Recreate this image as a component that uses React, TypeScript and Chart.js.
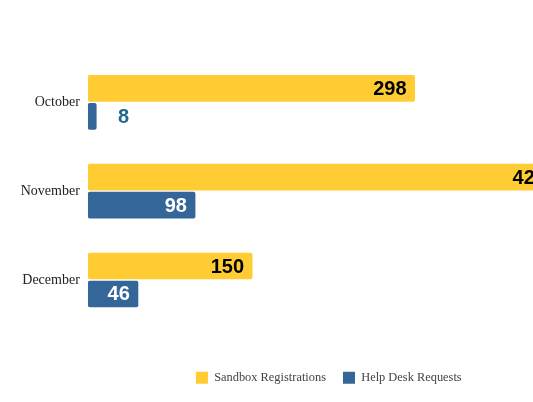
import React, { useEffect, useRef } from "react";
import { Chart, registerables } from "chart.js";

Chart.register(...registerables);

const categories = ["October", "November", "December"];
const sandboxRegistrations = [298, 425, 150];
const helpDeskRequests = [8, 98, 46];
const seriesNames = ["Sandbox Registrations", "Help Desk Requests"];
const seriesColors = ["#FFCD33", "#346699"];
const labelColors = ["#000000", "#FFFFFF"];
const outsideLabelColor = "#1F6B8F";

const valueLabelPlugin = {
  id: "valueLabels",
  afterDatasetsDraw(chart: any) {
    const ctx = chart.ctx;
    ctx.save();
    ctx.font = "bold 20px 'Liberation Sans', Arial, sans-serif";
    ctx.textBaseline = "middle";
    chart.data.datasets.forEach((ds: any, di: number) => {
      const meta = chart.getDatasetMeta(di);
      meta.data.forEach((bar: any, i: number) => {
        const text = String(ds.data[i]);
        const w = ctx.measureText(text).width;
        const len = bar.x - bar.base;
        if (len > w + 18) {
          ctx.fillStyle = labelColors[di];
          ctx.textAlign = "right";
          ctx.fillText(text, bar.x - 8.5, bar.y + 1);
        } else {
          ctx.fillStyle = outsideLabelColor;
          ctx.textAlign = "left";
          ctx.fillText(text, bar.x + 21.5, bar.y + 1);
        }
      });
    });
    ctx.restore();
  },
};

export default function App() {
  const ref = useRef<HTMLCanvasElement | null>(null);
  useEffect(() => {
    if (!ref.current) return;
    const chart = new Chart(ref.current, {
      type: "bar",
      data: {
        labels: categories,
        datasets: [
          {
            label: seriesNames[0],
            data: sandboxRegistrations,
            backgroundColor: seriesColors[0],
            borderRadius: 2,
            borderSkipped: false,
            categoryPercentage: 0.63,
            barPercentage: 0.954,
          },
          {
            label: seriesNames[1],
            data: helpDeskRequests,
            backgroundColor: seriesColors[1],
            borderRadius: 2,
            borderSkipped: false,
            categoryPercentage: 0.63,
            barPercentage: 0.954,
          },
        ],
      },
      options: {
        indexAxis: "y",
        animation: false,
        responsive: true,
        maintainAspectRatio: false,
        layout: { padding: { top: 49.9, left: 12.8, right: 11.2, bottom: 0 } },
        scales: {
          x: {
            min: 0,
            max: 500,
            grid: { display: false, drawTicks: false },
            border: { display: false },
            ticks: { display: false },
            afterFit: (scale: any) => {
              scale.height = 30.2;
            },
          },
          y: {
            grid: { display: false, drawTicks: false },
            border: { display: false },
            ticks: {
              padding: 8,
              color: "#222",
              font: { family: "'Liberation Serif', 'Times New Roman', serif", size: 14 },
            },
            afterFit: (scale: any) => {
              scale.width = 67;
            },
          },
        },
        plugins: {
          tooltip: { enabled: false },
          legend: {
            position: "bottom",
            labels: {
              boxWidth: 12,
              boxHeight: 12,
              padding: 17,
              color: "#444",
              font: { family: "'Liberation Serif', 'Times New Roman', serif", size: 12.4 },
            },
          },
        },
      },
      plugins: [valueLabelPlugin],
    } as any);
    return () => chart.destroy();
  }, []);
  return (
    <div
      style={{
        position: "fixed",
        left: 8,
        top: 8,
        width: 525,
        height: 386,
        overflow: "hidden",
      }}
    >
      <div style={{ width: 640, height: 386, position: "relative" }}>
        <canvas ref={ref} />
      </div>
    </div>
  );
}
